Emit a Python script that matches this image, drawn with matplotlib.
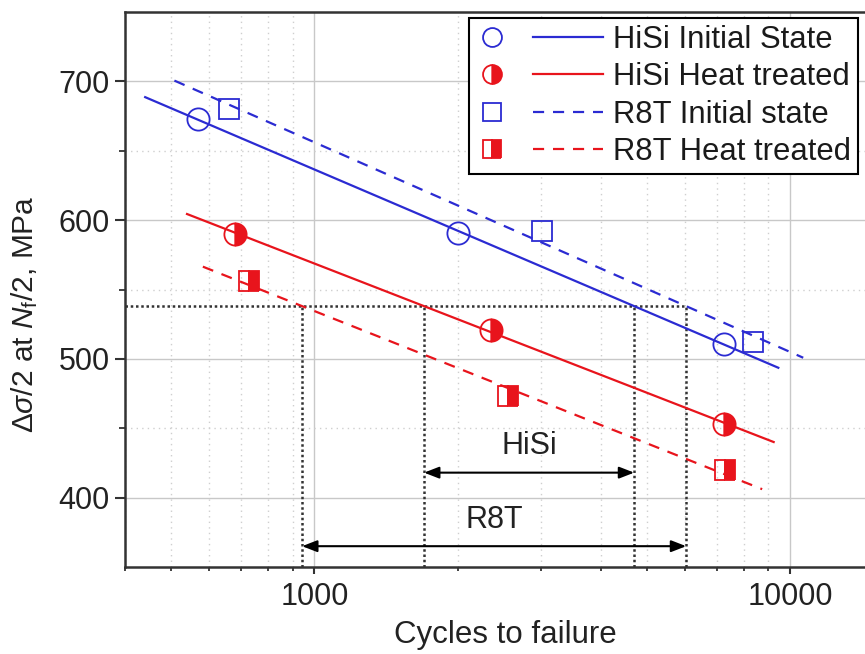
import numpy as np
import matplotlib
matplotlib.use('Agg')
import matplotlib.pyplot as plt
from matplotlib.lines import Line2D
from matplotlib.legend_handler import HandlerBase
from matplotlib.ticker import LogLocator, FixedLocator, FuncFormatter, NullFormatter

plt.rcParams['font.family'] = ['Liberation Sans', 'DejaVu Sans']
plt.rcParams['mathtext.fontset'] = 'custom'
plt.rcParams['mathtext.rm'] = 'Liberation Sans'
plt.rcParams['mathtext.it'] = 'Liberation Sans:italic'
plt.rcParams['mathtext.bf'] = 'Liberation Sans:bold'

# ---- data ----
hisi_init_N = [570, 2000, 7260]
hisi_init_S = [673, 591, 511]
hisi_ht_N = [682, 2355, 7260]
hisi_ht_S = [590, 521, 453]
r8t_init_N = [661, 3006, 8340]
r8t_init_S = [680, 592, 512]
r8t_ht_N = [729, 2547, 7300]
r8t_ht_S = [556, 473, 420]

# extent of the fitted lines (cycles)
hisi_init_fit_range = [441, 9440]
hisi_ht_fit_range = [540, 9230]
r8t_init_fit_range = [508, 10650]
r8t_ht_fit_range = [583, 8730]

level_S = 538          # reference stress level
hisi_arrow_S = 418
r8t_arrow_S = 365
hisi_label_S = 437
r8t_label_S = 384

labels = ['HiSi Initial State', 'HiSi Heat treated', 'R8T Initial state', 'R8T Heat treated']
xlim = (400, 14360)
ylim = (350, 750)
yticks = [400, 500, 600, 700]
yminor = [450, 550, 650]

blue = '#2b2bd2'
red = '#e8141c'
FS = 22


def fit(N, S):
    return np.polyfit(np.log10(N), S, 1)


def eval_fit(p, N):
    return np.polyval(p, np.log10(N))


def N_at(p, S):
    return 10 ** ((S - p[1]) / p[0])


fig = plt.figure(figsize=(8.65, 6.54), dpi=100)
ax = fig.add_axes([125 / 865, 87 / 654, 740 / 865, 555 / 654])
ax.set_xscale('log')
ax.set_xlim(*xlim)
ax.set_ylim(*ylim)

series = [
    (hisi_init_N, hisi_init_S, hisi_init_fit_range, blue, '-', 'o', 'none'),
    (hisi_ht_N, hisi_ht_S, hisi_ht_fit_range, red, '-', 'o', 'right'),
    (r8t_init_N, r8t_init_S, r8t_init_fit_range, blue, (0, (5, 4)), 's', 'none'),
    (r8t_ht_N, r8t_ht_S, r8t_ht_fit_range, red, (0, (5, 4)), 's', 'right'),
]

fits = []
handles = []
for (N, S, rng, c, ls, mk, fs), lab in zip(series, labels):
    p = fit(N, S)
    fits.append(p)
    xr = np.array(rng, dtype=float)
    ln, = ax.plot(xr, eval_fit(p, xr), color=c, lw=1.6, ls=ls, zorder=3)
    ms = 16 if mk == 'o' else 15
    if fs == 'none':
        mline, = ax.plot(N, S, ls='none', marker=mk, ms=ms, mew=1.3,
                         mec=c, mfc='none', zorder=4)
    else:
        mline, = ax.plot(N, S, ls='none', marker=mk, ms=ms, mew=1.3,
                         mec=c, mfc=c, fillstyle='right',
                         markerfacecoloralt='none', zorder=4)
    handles.append((mline, ln))

# reference level and intersections
p_hi, p_hh, p_ri, p_rh = fits
N_rh = N_at(p_rh, level_S)
N_hh = N_at(p_hh, level_S)
N_hi = N_at(p_hi, level_S)
N_ri = N_at(p_ri, level_S)
dot_style = dict(color='#333333', lw=1.8, ls=(0, (1, 1.1)), zorder=2)
ax.plot([xlim[0], N_ri], [level_S, level_S], **dot_style)
for n in [N_rh, N_hh, N_hi, N_ri]:
    ax.plot([n, n], [ylim[0], level_S], **dot_style)

arrow_kw = dict(arrowstyle='<|-|>,head_length=0.9,head_width=0.35',
                color='black', lw=1.5, shrinkA=0, shrinkB=0)
ax.annotate('', xy=(N_hi, hisi_arrow_S), xytext=(N_hh, hisi_arrow_S),
            arrowprops=arrow_kw, zorder=5)
ax.annotate('', xy=(N_ri, r8t_arrow_S), xytext=(N_rh, r8t_arrow_S),
            arrowprops=arrow_kw, zorder=5)
ax.text(np.sqrt(N_hh * N_hi), hisi_label_S, 'HiSi', ha='center', va='center',
        fontsize=FS, color='#222222')
ax.text(np.sqrt(N_rh * N_ri), r8t_label_S, 'R8T', ha='center', va='center',
        fontsize=FS, color='#222222')

# axes styling
ax.xaxis.set_major_locator(FixedLocator([1000, 10000]))
ax.xaxis.set_major_formatter(FuncFormatter(lambda v, p: '%d' % v))
ax.xaxis.set_minor_locator(LogLocator(base=10, subs=np.arange(2, 10)))
ax.xaxis.set_minor_formatter(NullFormatter())
ax.yaxis.set_major_locator(FixedLocator(yticks))
ax.yaxis.set_minor_locator(FixedLocator(yminor))

ax.set_axisbelow(True)
ax.grid(which='major', color='#c8c8c8', lw=1.0, ls='-')
ax.grid(which='minor', color='#cfcfcf', lw=1.0, ls=(0, (1, 3)))

for side in ['left', 'bottom', 'top']:
    ax.spines[side].set_linewidth(1.8)
    ax.spines[side].set_color('#333333')
ax.spines['right'].set_visible(False)

ax.tick_params(axis='y', which='major', direction='out', length=7, width=1.5,
               color='#333333', labelsize=FS, pad=4, labelcolor='#222222')
ax.tick_params(axis='y', which='minor', direction='out', length=4, width=1.3,
               color='#333333')
ax.tick_params(axis='x', which='major', direction='out', length=5, width=1.5,
               color='#333333', labelsize=FS, pad=6, labelcolor='#222222')
ax.tick_params(axis='x', which='minor', direction='out', length=3, width=1.3,
               color='#333333')

ax.set_xlabel('Cycles to failure', fontsize=22.5, color='#222222', labelpad=6)
ax.xaxis.set_label_coords(0.5135, -0.095)
ax.set_ylabel(r'$\Delta\sigma$/2 at $N_\mathrm{f}$/2, MPa', fontsize=21.5,
              color='#222222')
ax.yaxis.set_label_coords(-0.115, 0.455)


class MarkerThenLine(HandlerBase):
    def create_artists(self, legend, orig_handle, xdescent, ydescent,
                       width, height, fontsize, trans):
        mk, ln = orig_handle
        y = height / 2 - ydescent
        x0 = -xdescent
        m = Line2D([x0 + 0.12 * width], [y])
        m.update_from(mk)
        m.set_markersize(mk.get_markersize() * 0.85)
        m.set_transform(trans)
        l = Line2D([x0 + 0.45 * width, x0 + width], [y, y])
        l.update_from(ln)
        l.set_transform(trans)
        return [m, l]


leg = ax.legend(handles, labels, handler_map={tuple: MarkerThenLine()},
                loc='upper right', bbox_to_anchor=(858 / 865, 1 - 18 / 654),
                bbox_transform=fig.transFigure, borderaxespad=0,
                fontsize=22.3, handlelength=4.1, handletextpad=0.32,
                borderpad=0.22, labelspacing=0.24, fancybox=False,
                edgecolor='black', framealpha=1)
leg.get_frame().set_linewidth(1.5)
for t in leg.get_texts():
    t.set_color('#1a1a1a')

fig.savefig('out.png', dpi=100)
